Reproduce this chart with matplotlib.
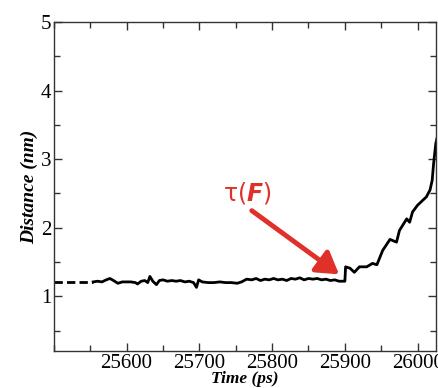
import matplotlib
matplotlib.use('Agg')
import matplotlib.pyplot as plt
from matplotlib.ticker import MultipleLocator

# dashed lead-in (no data recorded here)
lead_t = [25500, 25554]
lead_d = [1.21, 1.21]

# distance trace
time_ps = [25554, 25560, 25566, 25572, 25577, 25582, 25588, 25594, 25600, 25606,
           25612, 25615, 25620, 25625, 25629, 25632, 25636, 25641, 25645, 25650,
           25656, 25662, 25668, 25674, 25680, 25686, 25692, 25696, 25699, 25704,
           25712, 25720, 25728, 25736, 25744, 25752, 25758, 25765, 25772, 25778,
           25784, 25790, 25796, 25802, 25808, 25814, 25820, 25826, 25832, 25838,
           25844, 25850, 25856, 25862, 25868, 25874, 25880, 25886, 25892, 25899,
           25900, 25901, 25907, 25913, 25920, 25930, 25938, 25944, 25952, 25962,
           25971, 25975, 25985, 25989, 25993, 26000, 26005, 26012, 26017, 26020,
           26022, 26025, 26027]
dist_nm = [1.21, 1.22, 1.21, 1.24, 1.26, 1.23, 1.19, 1.21, 1.21, 1.21,
           1.20, 1.18, 1.22, 1.23, 1.20, 1.29, 1.22, 1.17, 1.23, 1.24,
           1.22, 1.23, 1.22, 1.23, 1.21, 1.22, 1.20, 1.13, 1.24, 1.21,
           1.20, 1.20, 1.21, 1.20, 1.20, 1.19, 1.21, 1.25, 1.24, 1.26,
           1.23, 1.25, 1.24, 1.26, 1.24, 1.25, 1.23, 1.26, 1.25, 1.27,
           1.24, 1.26, 1.25, 1.26, 1.24, 1.25, 1.23, 1.24, 1.22, 1.22,
           1.22, 1.43, 1.41, 1.35, 1.43, 1.43, 1.48, 1.46, 1.67, 1.83,
           1.79, 1.96, 2.13, 2.08, 2.23, 2.33, 2.38, 2.45, 2.55, 2.69,
           2.94, 3.23, 3.32]

x_ticks = [25600, 25700, 25800, 25900, 26000]
y_ticks = [1, 2, 3, 4, 5]

plt.rcParams['mathtext.fontset'] = 'dejavusans'

fig = plt.figure(figsize=(4.38, 3.88), dpi=100)
ax = fig.add_axes([0.123, 0.095, 0.872, 0.848])

ax.plot(lead_t, lead_d, color='black', lw=2.0, ls=(0, (3, 1.5)))
ax.plot(time_ps, dist_nm, color='black', lw=2.0)

ax.set_xlim(25500, 26025)
ax.set_ylim(0.2, 5)
ax.set_xticks(x_ticks)
ax.set_yticks(y_ticks)
ax.xaxis.set_minor_locator(MultipleLocator(50))
ax.yaxis.set_minor_locator(MultipleLocator(0.5))
ax.tick_params(which='both', direction='in', top=True, right=True, color='#333333')
ax.tick_params(which='major', length=6, width=1, labelsize=15, pad=2)
ax.tick_params(which='minor', length=4, width=1)
for lab in ax.get_xticklabels() + ax.get_yticklabels():
    lab.set_family('Liberation Serif')
for s in ax.spines.values():
    s.set_color('#333333')
    s.set_linewidth(1.0)

ax.set_xlabel('Time (ps)', family='Liberation Serif', fontsize=12.5,
              fontweight='bold', style='italic', labelpad=-1.5)
ax.set_ylabel('Distance (nm)', family='Liberation Serif', fontsize=14,
              fontweight='bold', style='italic', labelpad=2)

red = '#e0302a'
ax.annotate('', xy=(25892, 1.32), xytext=(25772, 2.25),
            arrowprops=dict(arrowstyle='-|>,head_length=1.3,head_width=0.8',
                            color=red, lw=3.5, shrinkA=0, shrinkB=0))
ax.text(25766, 2.5, r'τ($\mathbfit{F}$)', color=red, fontsize=17,
        family='DejaVu Sans', ha='center', va='center')

fig.savefig('out.png', dpi=100)
